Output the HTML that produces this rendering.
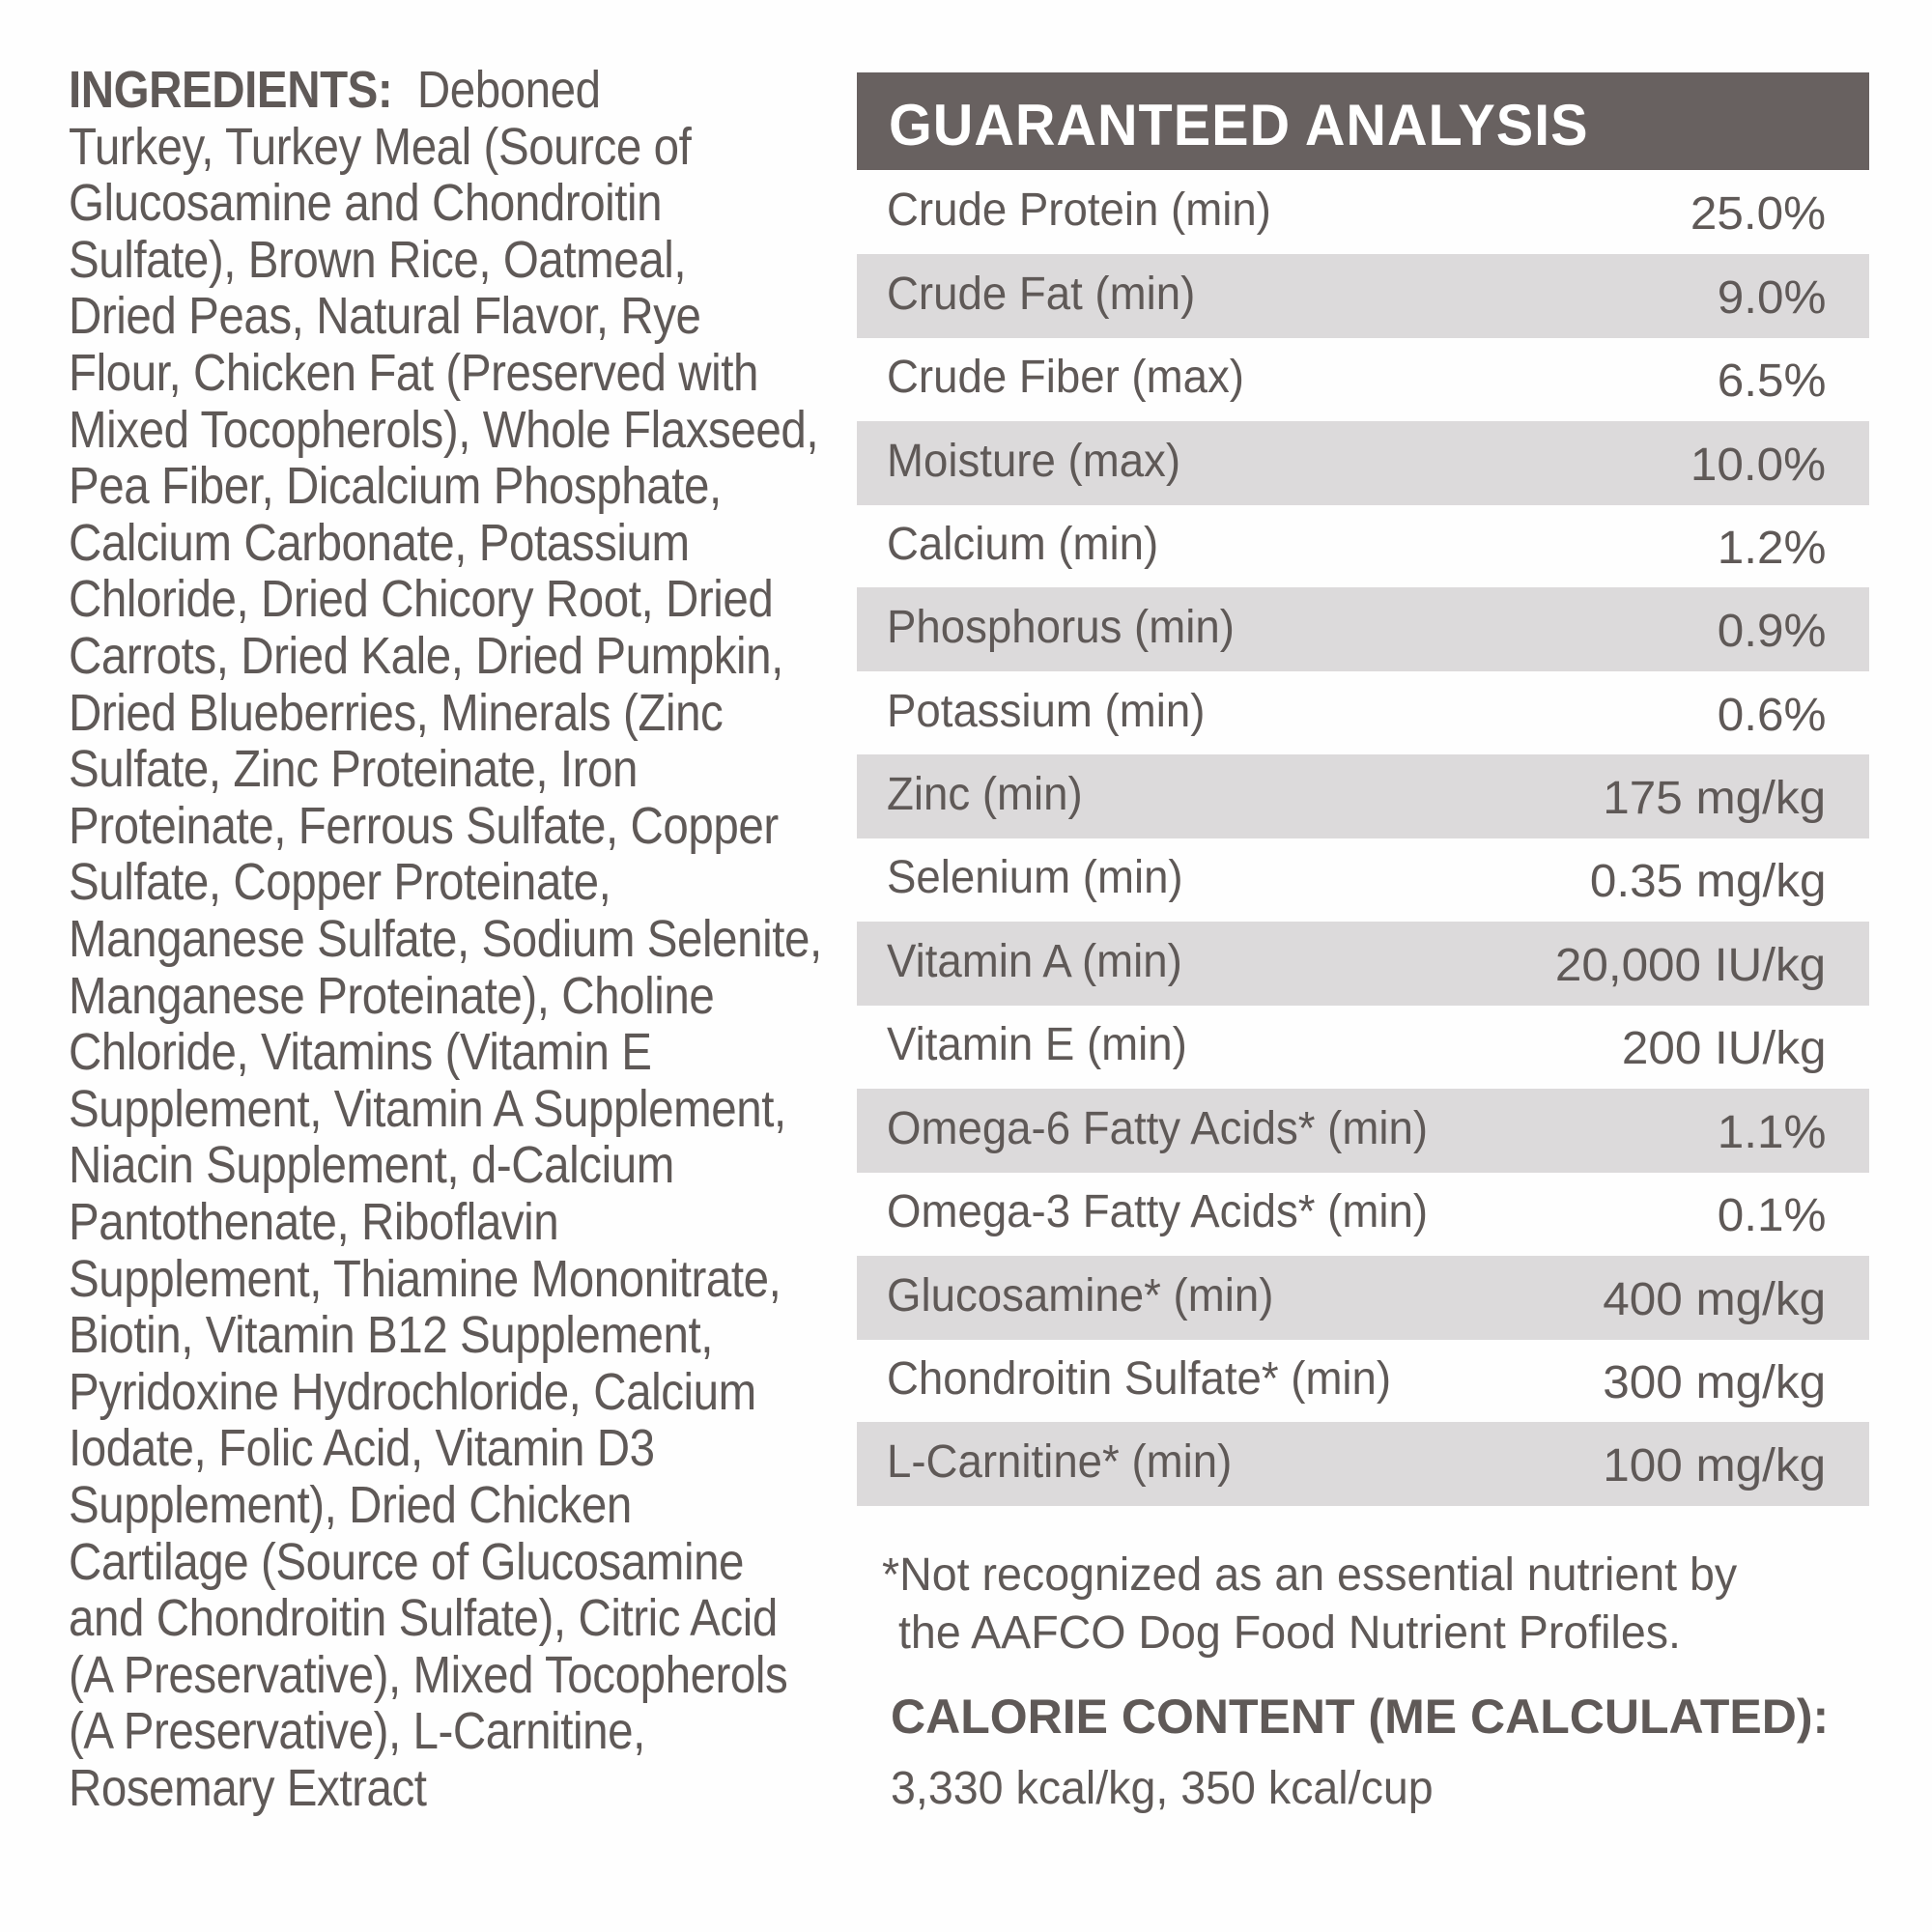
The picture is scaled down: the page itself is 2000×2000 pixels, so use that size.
<!DOCTYPE html>
<html><head><style>
body{margin:0;width:2000px;height:2000px;background:#fefefe;position:relative;overflow:hidden;font-family:"Liberation Sans",sans-serif;color:#5f5957}
.l{position:absolute;left:71px;font-size:54px;line-height:59px;white-space:nowrap;transform:scaleX(0.88);transform-origin:0 0;letter-spacing:-0.5px}
#hdr{position:absolute;left:887px;top:75px;width:1048px;height:101px;background:#686160}
#hdr span{position:absolute;left:33px;top:20px;color:#fff;font-weight:bold;font-size:60px;letter-spacing:1px;white-space:nowrap;transform:scaleX(0.96);transform-origin:0 0}
.r{position:absolute;left:887px;width:1048px;height:87px}
.r.g{background:#dcdadb}
.r .a{position:absolute;left:31px;top:14px;font-size:48px;white-space:nowrap;transform:scaleX(0.95);transform-origin:0 0}
.r .b{position:absolute;right:45px;top:18px;font-size:48px;white-space:nowrap;transform:scaleX(1.03);transform-origin:100% 0}
.f{position:absolute;font-size:48px;white-space:nowrap;transform:scaleX(0.97);transform-origin:0 0}
</style></head><body>
<div class="l" style="top:64px"><b>INGREDIENTS:</b>&nbsp; Deboned</div>
<div class="l" style="top:123px">Turkey, Turkey Meal (Source of</div>
<div class="l" style="top:181px">Glucosamine and Chondroitin</div>
<div class="l" style="top:240px">Sulfate), Brown Rice, Oatmeal,</div>
<div class="l" style="top:298px">Dried Peas, Natural Flavor, Rye</div>
<div class="l" style="top:357px">Flour, Chicken Fat (Preserved with</div>
<div class="l" style="top:416px">Mixed Tocopherols), Whole Flaxseed,</div>
<div class="l" style="top:474px">Pea Fiber, Dicalcium Phosphate,</div>
<div class="l" style="top:533px">Calcium Carbonate, Potassium</div>
<div class="l" style="top:591px">Chloride, Dried Chicory Root, Dried</div>
<div class="l" style="top:650px">Carrots, Dried Kale, Dried Pumpkin,</div>
<div class="l" style="top:709px">Dried Blueberries, Minerals (Zinc</div>
<div class="l" style="top:767px">Sulfate, Zinc Proteinate, Iron</div>
<div class="l" style="top:826px">Proteinate, Ferrous Sulfate, Copper</div>
<div class="l" style="top:884px">Sulfate, Copper Proteinate,</div>
<div class="l" style="top:943px">Manganese Sulfate, Sodium Selenite,</div>
<div class="l" style="top:1002px">Manganese Proteinate), Choline</div>
<div class="l" style="top:1060px">Chloride, Vitamins (Vitamin E</div>
<div class="l" style="top:1119px">Supplement, Vitamin A Supplement,</div>
<div class="l" style="top:1177px">Niacin Supplement, d-Calcium</div>
<div class="l" style="top:1236px">Pantothenate, Riboflavin</div>
<div class="l" style="top:1295px">Supplement, Thiamine Mononitrate,</div>
<div class="l" style="top:1353px">Biotin, Vitamin B12 Supplement,</div>
<div class="l" style="top:1412px">Pyridoxine Hydrochloride, Calcium</div>
<div class="l" style="top:1470px">Iodate, Folic Acid, Vitamin D3</div>
<div class="l" style="top:1529px">Supplement), Dried Chicken</div>
<div class="l" style="top:1588px">Cartilage (Source of Glucosamine</div>
<div class="l" style="top:1646px">and Chondroitin Sulfate), Citric Acid</div>
<div class="l" style="top:1705px">(A Preservative), Mixed Tocopherols</div>
<div class="l" style="top:1763px">(A Preservative), L-Carnitine,</div>
<div class="l" style="top:1822px">Rosemary Extract</div>

<div id="hdr"><span>GUARANTEED ANALYSIS</span></div>
<div class="r" style="top:176px"><span class="a">Crude Protein (min)</span><span class="b">25.0%</span></div>
<div class="r g" style="top:263px"><span class="a">Crude Fat (min)</span><span class="b">9.0%</span></div>
<div class="r" style="top:349px"><span class="a">Crude Fiber (max)</span><span class="b">6.5%</span></div>
<div class="r g" style="top:436px"><span class="a">Moisture (max)</span><span class="b">10.0%</span></div>
<div class="r" style="top:522px"><span class="a">Calcium (min)</span><span class="b">1.2%</span></div>
<div class="r g" style="top:608px"><span class="a">Phosphorus (min)</span><span class="b">0.9%</span></div>
<div class="r" style="top:695px"><span class="a">Potassium (min)</span><span class="b">0.6%</span></div>
<div class="r g" style="top:781px"><span class="a">Zinc (min)</span><span class="b">175 mg/kg</span></div>
<div class="r" style="top:867px"><span class="a">Selenium (min)</span><span class="b">0.35 mg/kg</span></div>
<div class="r g" style="top:954px"><span class="a">Vitamin A (min)</span><span class="b">20,000 IU/kg</span></div>
<div class="r" style="top:1040px"><span class="a">Vitamin E (min)</span><span class="b">200 IU/kg</span></div>
<div class="r g" style="top:1127px"><span class="a">Omega-6 Fatty Acids* (min)</span><span class="b">1.1%</span></div>
<div class="r" style="top:1213px"><span class="a">Omega-3 Fatty Acids* (min)</span><span class="b">0.1%</span></div>
<div class="r g" style="top:1300px"><span class="a">Glucosamine* (min)</span><span class="b">400 mg/kg</span></div>
<div class="r" style="top:1386px"><span class="a">Chondroitin Sulfate* (min)</span><span class="b">300 mg/kg</span></div>
<div class="r g" style="top:1472px"><span class="a">L-Carnitine* (min)</span><span class="b">100 mg/kg</span></div>

<div class="f" style="left:913px;top:1603px">*Not recognized as an essential nutrient by</div>
<div class="f" style="left:930px;top:1663px">the AAFCO Dog Food Nutrient Profiles.</div>
<div class="f" style="left:922px;top:1748px;font-weight:bold;font-size:50px;transform:scaleX(1.0)">CALORIE CONTENT (ME CALCULATED):</div>
<div class="f" style="left:922px;top:1824px">3,330 kcal/kg, 350 kcal/cup</div>
</body></html>
